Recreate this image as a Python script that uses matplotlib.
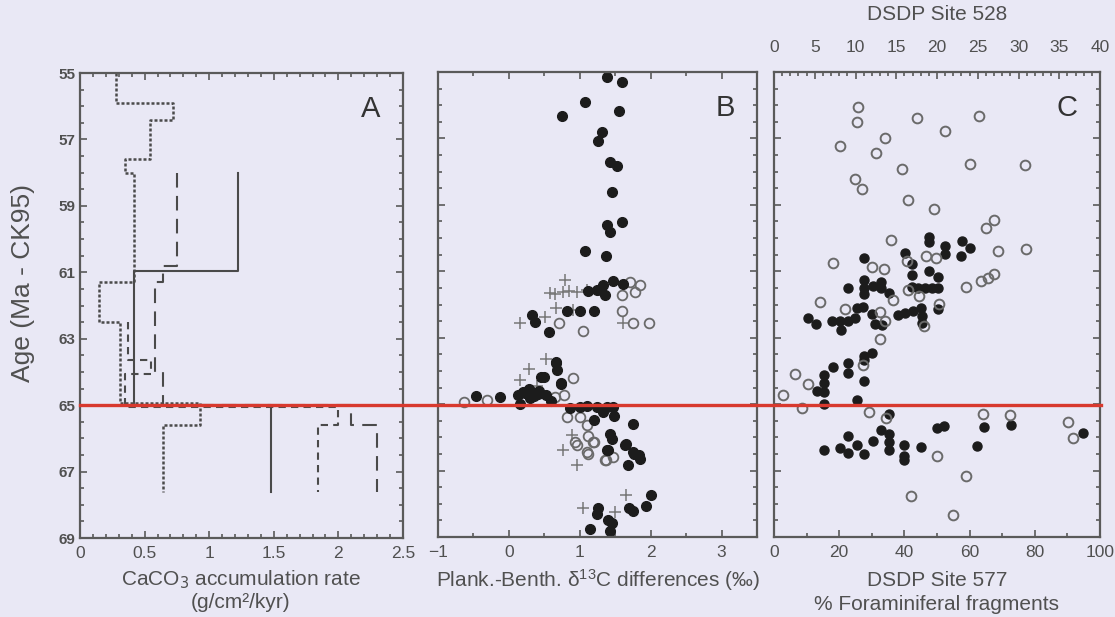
import numpy as np
import matplotlib.pyplot as plt
from matplotlib.lines import Line2D
from matplotlib import transforms
from matplotlib.ticker import MultipleLocator, FixedLocator

plt.rcParams['font.family'] = ['Liberation Sans', 'DejaVu Sans']

BG = '#e9e8f5'
INK = '#505050'

# --- panel A: CaCO3 accumulation rate step curves (age boundaries, rates) ---
solid_age = [58.0, 60.95, 65.0, 67.6]
solid_rate = [1.22, 0.42, 1.48]
dotted_age = [55.0, 55.9, 56.4, 57.6, 58.0, 61.3, 62.5, 64.95, 65.6, 67.6]
dotted_rate = [0.28, 0.72, 0.54, 0.35, 0.42, 0.15, 0.31, 0.93, 0.64]
dashed_age = [58.0, 60.8, 61.3, 64.0, 65.0, 65.6, 67.6]
dashed_rate = [0.75, 0.64, 0.58, 0.64, 2.1, 2.3]
short_age = [62.5, 63.65, 64.05, 65.05, 65.6, 67.6]
short_rate = [0.37, 0.55, 0.35, 2.0, 1.84]

# --- panel B: plank.-benth. d13C differences ---
b_fill_x = [1.38, 1.60, 1.08, 0.75, 1.55, 1.32, 1.26, 1.42, 1.53, 1.46, 1.38, 1.42,
            1.60, 1.08, 1.37, 1.47, 1.61, 1.33, 1.36, 1.24, 1.20, 1.00, 0.32, 0.37,
            0.56, 0.82, 0.67, 0.68, 0.46, 0.73, -0.46, -0.12, 0.13, 0.23, 0.32, 0.41,
            0.30, 0.52, 0.16, 0.86, 1.00, 1.10, 1.24, 1.38, 1.47, 1.33, 1.48, 1.20,
            1.75, 1.42, 1.46, 1.65, 1.75, 0.66, 0.74, 0.49, 1.83, 1.68, 1.40, 1.64,
            1.39, 1.77, 1.85, 2.00, 1.93, 1.70, 1.75, 1.26, 1.24, 1.40, 1.46, 1.14,
            1.43, 0.28, 0.42, 0.35, 0.20, 0.60, 1.12, 1.30]
b_fill_age = [55.16, 55.29, 55.89, 56.33, 56.17, 56.80, 57.07, 57.72, 57.82, 58.62,
              59.61, 59.81, 59.51, 60.38, 60.55, 61.29, 61.39, 61.42, 61.72, 61.57,
              62.19, 62.19, 62.32, 62.52, 62.82, 62.19, 63.73, 63.98, 64.18, 64.35,
              64.75, 64.78, 64.73, 64.65, 64.63, 64.68, 64.81, 64.73, 65.01, 65.11,
              65.08, 65.05, 65.08, 65.08, 65.08, 65.23, 65.35, 65.48, 65.61, 65.91,
              66.05, 66.21, 66.45, 63.77, 64.38, 64.18, 66.54, 66.84, 66.37, 66.24,
              66.39, 66.51, 66.64, 67.74, 68.07, 68.14, 68.22, 68.14, 68.31, 68.49,
              68.58, 68.77, 68.82, 64.55, 64.60, 64.75, 64.62, 64.90, 61.60, 61.55]
b_open_x = [1.71, 1.85, 1.78, 1.60, 1.60, 1.75, 1.97, 1.05, 0.70, 0.91, 0.78, 0.65,
            -0.31, -0.64, 0.82, 1.00, 1.10, 1.12, 1.20, 1.10, 0.93, 1.37, 1.47, 0.96,
            1.12, 1.36, 1.19]
b_open_age = [61.32, 61.42, 61.62, 61.72, 62.19, 62.55, 62.55, 62.80, 62.55, 64.20,
              64.73, 64.78, 64.88, 64.95, 65.38, 65.38, 65.63, 65.95, 66.15, 66.44,
              66.14, 66.69, 66.59, 66.24, 66.49, 66.69, 66.14]
b_plus_x = [0.79, 0.65, 0.77, 0.96, 1.10, 0.51, 0.67, 0.16, 1.61, 0.91, 0.52, 0.29,
            0.16, 0.89, 0.77, 0.96, 1.65, 1.05, 1.50, 0.58, 0.85, 0.40]
b_plus_age = [61.27, 61.67, 61.62, 61.62, 61.57, 62.37, 62.12, 62.55, 62.55, 62.17,
              63.64, 63.95, 64.28, 65.93, 66.39, 66.84, 67.74, 68.14, 68.24, 61.65,
              61.60, 64.45]

# --- panel C: foraminiferal fragments ---
# Site 528 (open circles, top axis, %)
c528_x = [10.3, 10.2, 17.5, 25.1, 21.0, 13.6, 8.1, 12.5, 15.7, 24.0, 30.8, 9.9, 10.8,
          16.5, 19.6, 27.0, 26.0, 14.4, 27.5, 30.9, 7.2, 12.0, 13.5, 16.3, 18.7, 19.9,
          23.6, 25.4, 26.3, 27.0, 5.6, 8.7, 14.6, 16.5, 17.8, 20.3, 13.0, 13.6, 18.4,
          13.0, 2.6, 4.2, 1.1, 3.4, 11.7, 13.8, 25.6, 29.0, 36.1, 36.7, 20.0, 10.9,
          23.6, 16.8, 22.0]
c528_age = [56.04, 56.52, 56.39, 56.33, 56.77, 56.98, 57.23, 57.45, 57.93, 57.78,
            57.81, 58.21, 58.53, 58.84, 59.11, 59.46, 59.70, 60.07, 60.40, 60.32,
            60.76, 60.86, 60.93, 60.70, 60.55, 60.60, 61.47, 61.30, 61.20, 61.08,
            61.91, 62.13, 61.86, 61.57, 61.74, 61.99, 62.23, 62.51, 62.66, 63.05,
            64.09, 64.40, 64.73, 65.13, 65.23, 65.43, 65.31, 65.33, 65.53, 66.01,
            66.57, 63.82, 67.17, 67.77, 68.35]
# Site 577 (filled circles, bottom axis, %)
c577_x = [47.5, 47.5, 52.5, 52.5, 57.6, 60.1, 57.4, 27.7, 40.2, 42.4, 47.5, 50.2,
          42.4, 27.7, 32.8, 22.8, 27.7, 30.5, 32.8, 27.7, 42.2, 44.3, 46.3, 48.4,
          50.4, 35.3, 10.3, 12.8, 17.9, 20.2, 22.6, 24.8, 25.4, 27.4, 30.0, 31.0,
          33.0, 20.6, 37.9, 40.2, 42.7, 45.1, 45.3, 45.3, 50.2, 30.2, 27.7, 27.7,
          22.8, 22.8, 18.0, 15.4, 15.4, 15.4, 13.1, 15.4, 27.7, 25.4, 35.3, 49.9,
          52.2, 64.5, 72.6, 94.9, 32.8, 35.3, 35.3, 35.3, 22.6, 25.4, 30.3, 15.4,
          20.2, 22.6, 27.7, 40.0, 45.1, 40.0, 62.2, 39.9]
c577_age = [59.98, 60.11, 60.25, 60.48, 60.08, 60.30, 60.55, 60.60, 60.45, 60.78,
            61.00, 61.18, 61.12, 61.25, 61.32, 61.50, 61.49, 61.43, 61.49, 61.69,
            61.46, 61.49, 61.49, 61.49, 61.49, 61.66, 62.41, 62.59, 62.51, 62.51,
            62.49, 62.41, 62.11, 62.09, 62.29, 62.59, 62.61, 62.76, 62.33, 62.26,
            62.21, 62.11, 62.36, 62.56, 62.13, 63.45, 63.55, 63.67, 63.75, 64.05,
            63.87, 64.12, 64.37, 64.63, 64.60, 65.00, 64.30, 64.88, 65.30, 65.73,
            65.66, 65.69, 65.62, 65.86, 65.79, 65.91, 66.14, 66.37, 65.97, 66.24,
            66.11, 66.37, 66.31, 66.47, 66.51, 66.22, 66.29, 66.57, 66.27, 66.69]

KT_AGE = 65.0
AGE_MAJOR = [55, 57, 59, 61, 63, 65, 67, 69]
W, HPX = 1115, 617


def step_path(bounds, vals):
    xs, ys = [], []
    for i, v in enumerate(vals):
        xs += [v, v]
        ys += [bounds[i], bounds[i + 1]]
    return xs, ys


def style_axes(ax, label_y=False):
    ax.set_facecolor(BG)
    ax.set_ylim(69, 55)
    ax.yaxis.set_major_locator(FixedLocator(AGE_MAJOR))
    ax.yaxis.set_minor_locator(MultipleLocator(0.5))
    for s in ax.spines.values():
        s.set_color('#5a5a5a')
        s.set_linewidth(1.6)
    ax.tick_params(which='both', direction='in', top=True, right=True,
                   color='#5a5a5a', width=1.2, labelcolor=INK, labelsize=12.5)
    ax.tick_params(which='major', length=5)
    ax.tick_params(which='minor', length=3)
    ax.tick_params(axis='x', pad=6)
    if not label_y:
        ax.tick_params(axis='y', labelleft=False)
    else:
        for t in ax.get_yticklabels():
            t.set_fontweight('bold')
            t.set_fontsize(11)


def label(xpx, ypx, s, size=15):
    fig.text(xpx / W, 1 - ypx / HPX, s, ha='center', va='center', fontsize=size,
             color=INK)


fig = plt.figure(figsize=(11.15, 6.17), dpi=100, facecolor=BG)

H = 465 / HPX
BOT = 1 - 538 / HPX
axA = fig.add_axes([80 / W, BOT, 323 / W, H])
axB = fig.add_axes([438 / W, BOT + 1 / HPX, 319 / W, H])
axC = fig.add_axes([774 / W, BOT + 1 / HPX, 326 / W, H])

# panel A
style_axes(axA, label_y=True)
gray = '#4a4a4a'
x, y = step_path(solid_age, solid_rate)
axA.plot(x, y, color=gray, lw=1.5)
x, y = step_path(dotted_age, dotted_rate)
axA.plot(x, y, color=gray, lw=1.8, ls=(0, (1.2, 0.8)))
x, y = step_path(dashed_age, dashed_rate)
axA.plot(x, y, color=gray, lw=1.5, ls=(0, (7, 4)))
x, y = step_path(short_age, short_rate)
axA.plot(x, y, color=gray, lw=1.5, ls=(0, (3.5, 2.5)))
axA.set_xlim(0, 2.5)
axA.set_xticks([0, 0.5, 1, 1.5, 2, 2.5])
axA.set_xticklabels(['0', '0.5', '1', '1.5', '2', '2.5'])
axA.xaxis.set_minor_locator(MultipleLocator(0.1))
axA.text(0.93, 0.905, 'A', transform=axA.transAxes, fontsize=21, color='#333333',
         ha='right')
label(241, 580, 'CaCO$_3$ accumulation rate')
label(241, 603, '(g/cm²/kyr)')
fig.text(23 / W, 1 - 283 / HPX, 'Age (Ma - CK95)', rotation=90, ha='center',
         va='center', fontsize=19, color=INK)

# panel B
style_axes(axB)
axB.plot(b_plus_x, b_plus_age, '+', color='#777777', ms=8, mew=1.1)
axB.plot(b_open_x, b_open_age, 'o', mfc='none', mec='#6a6a6a', ms=7, mew=1.3)
axB.plot(b_fill_x, b_fill_age, 'o', color='#1c1c1c', ms=7)
axB.set_xlim(-1, 3.5)
axB.set_xticks([-1, 0, 1, 2, 3])
axB.xaxis.set_minor_locator(MultipleLocator(0.5))
label(598, 580, 'Plank.-Benth. $\\mathregular{\\delta^{13}}$C differences (‰)')
axB.text(0.93, 0.905, 'B', transform=axB.transAxes, fontsize=21, color='#333333',
         ha='right')

# panel C: Site 577 on the bottom axis, Site 528 on the top axis
style_axes(axC)
axC.tick_params(top=False)
axC.plot(c577_x, c577_age, 'o', color='#1c1c1c', ms=6.5)
axC.set_xlim(0, 100)
axC.set_xticks([0, 20, 40, 60, 80, 100])
axC.xaxis.set_minor_locator(MultipleLocator(10))
label(937, 580, 'DSDP Site 577')
label(937, 604, '% Foraminiferal fragments')
axC2 = axC.twiny()
for s in axC2.spines.values():
    s.set_visible(False)
axC2.set_xlim(0, 40)
axC2.plot(c528_x, c528_age, 'o', mfc='none', mec='#6a6a6a', ms=7, mew=1.4)
axC2.set_xticks(range(0, 41, 5))
axC2.xaxis.set_minor_locator(MultipleLocator(1))
axC2.tick_params(which='both', direction='in', color='#5a5a5a', width=1.2,
                 labelcolor=INK, labelsize=12.5, pad=12)
axC2.tick_params(which='major', length=5)
axC2.tick_params(which='minor', length=3)
axC2.set_ylim(69, 55)
label(937, 14, 'DSDP Site 528')
axC.text(0.93, 0.905, 'C', transform=axC.transAxes, fontsize=21, color='#333333',
         ha='right')

# K/T boundary across all panels
kt = transforms.blended_transform_factory(fig.transFigure, axA.transData)
fig.add_artist(Line2D([80 / W, 1101 / W], [KT_AGE, KT_AGE], transform=kt,
                      color='#d8392e', lw=2.4, zorder=10))

fig.savefig('out.png', dpi=100, facecolor=BG)
